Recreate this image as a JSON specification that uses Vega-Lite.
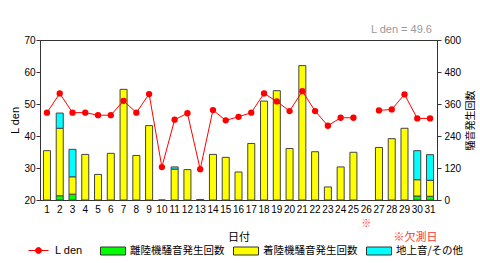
{
  "$schema": "https://vega.github.io/schema/vega-lite/v6.json",
  "width": 397,
  "height": 160,
  "autosize": {"type": "none"},
  "padding": {"left": 40, "top": 40, "right": 43, "bottom": 63},
  "background": "white",
  "title": {"text": "L den = 49.6", "anchor": "end", "frame": "group", "color": "#999999", "fontSize": 11, "fontWeight": "normal", "font": "Liberation Sans", "offset": 0, "dx": -5},
  "config": {
    "view": {"stroke": "#333333", "strokeWidth": 1},
    "axis": {"labelFont": "Liberation Sans", "labelFontSize": 10, "labelColor": "#000000", "domainColor": "#333333", "tickColor": "#333333", "grid": false, "titleFontWeight": "normal", "titleColor": "#000000"},
    "legend": {"labelColor": "#000000"}
  },
  "datasets": {
    "bars": [
      {"day": "1", "type": "離陸機騒音発生回数", "count": 0},
      {"day": "1", "type": "着陸機騒音発生回数", "count": 185},
      {"day": "2", "type": "離陸機騒音発生回数", "count": 16},
      {"day": "2", "type": "着陸機騒音発生回数", "count": 253},
      {"day": "2", "type": "地上音/その他", "count": 57},
      {"day": "3", "type": "離陸機騒音発生回数", "count": 22},
      {"day": "3", "type": "着陸機騒音発生回数", "count": 65},
      {"day": "3", "type": "地上音/その他", "count": 103},
      {"day": "4", "type": "着陸機騒音発生回数", "count": 171},
      {"day": "5", "type": "着陸機騒音発生回数", "count": 96},
      {"day": "6", "type": "着陸機騒音発生回数", "count": 175},
      {"day": "7", "type": "着陸機騒音発生回数", "count": 415},
      {"day": "8", "type": "着陸機騒音発生回数", "count": 167},
      {"day": "9", "type": "着陸機騒音発生回数", "count": 279},
      {"day": "10", "type": "着陸機騒音発生回数", "count": 0},
      {"day": "11", "type": "着陸機騒音発生回数", "count": 116},
      {"day": "11", "type": "地上音/その他", "count": 8},
      {"day": "12", "type": "着陸機騒音発生回数", "count": 114},
      {"day": "13", "type": "着陸機騒音発生回数", "count": 2},
      {"day": "14", "type": "着陸機騒音発生回数", "count": 171},
      {"day": "15", "type": "着陸機騒音発生回数", "count": 160},
      {"day": "16", "type": "着陸機騒音発生回数", "count": 105},
      {"day": "17", "type": "着陸機騒音発生回数", "count": 212},
      {"day": "18", "type": "着陸機騒音発生回数", "count": 371},
      {"day": "19", "type": "着陸機騒音発生回数", "count": 410},
      {"day": "20", "type": "着陸機騒音発生回数", "count": 193},
      {"day": "21", "type": "着陸機騒音発生回数", "count": 504},
      {"day": "22", "type": "着陸機騒音発生回数", "count": 181},
      {"day": "23", "type": "着陸機騒音発生回数", "count": 49},
      {"day": "24", "type": "着陸機騒音発生回数", "count": 124},
      {"day": "25", "type": "着陸機騒音発生回数", "count": 179},
      {"day": "27", "type": "着陸機騒音発生回数", "count": 197},
      {"day": "28", "type": "着陸機騒音発生回数", "count": 230},
      {"day": "29", "type": "着陸機騒音発生回数", "count": 269},
      {"day": "30", "type": "離陸機騒音発生回数", "count": 15},
      {"day": "30", "type": "着陸機騒音発生回数", "count": 61},
      {"day": "30", "type": "地上音/その他", "count": 109},
      {"day": "31", "type": "離陸機騒音発生回数", "count": 14},
      {"day": "31", "type": "着陸機騒音発生回数", "count": 60},
      {"day": "31", "type": "地上音/その他", "count": 96}
    ],
    "lden": [
      {"day": "1", "lden": 47.3}, {"day": "2", "lden": 53.3}, {"day": "3", "lden": 47.3},
      {"day": "4", "lden": 47.3}, {"day": "5", "lden": 46.5}, {"day": "6", "lden": 46.5},
      {"day": "7", "lden": 51.0}, {"day": "8", "lden": 47.3}, {"day": "9", "lden": 53.1},
      {"day": "10", "lden": 30.3}, {"day": "11", "lden": 45.1}, {"day": "12", "lden": 47.1},
      {"day": "13", "lden": 29.6}, {"day": "14", "lden": 48.1}, {"day": "15", "lden": 44.9},
      {"day": "16", "lden": 46.0}, {"day": "17", "lden": 47.3}, {"day": "18", "lden": 53.3},
      {"day": "19", "lden": 50.8}, {"day": "20", "lden": 47.8}, {"day": "21", "lden": 54.0},
      {"day": "22", "lden": 47.8}, {"day": "23", "lden": 43.2}, {"day": "24", "lden": 45.7},
      {"day": "25", "lden": 45.7}, {"day": "26", "lden": null}, {"day": "27", "lden": 48.0},
      {"day": "28", "lden": 48.3}, {"day": "29", "lden": 53.0}, {"day": "30", "lden": 45.5},
      {"day": "31", "lden": 45.5}
    ]
  },
  "layer": [
    {
      "data": {"name": "bars"},
      "mark": {"type": "bar", "stroke": "#444444", "strokeWidth": 1},
      "encoding": {
        "x": {
          "field": "day", "type": "ordinal",
          "scale": {"domain": ["1","2","3","4","5","6","7","8","9","10","11","12","13","14","15","16","17","18","19","20","21","22","23","24","25","26","27","28","29","30","31"], "paddingInner": 0.45, "paddingOuter": 0.27},
          "axis": {"orient": "bottom", "title": "日付", "titleFont": "Noto Sans CJK JP", "titleFontSize": 11, "titlePadding": 17, "labelAngle": 0, "ticks": false, "labelPadding": 4, "domain": true}
        },
        "y": {
          "field": "count", "type": "quantitative", "stack": "zero",
          "scale": {"domain": [0, 600]},
          "axis": {"orient": "right", "values": [0, 120, 240, 360, 480, 600], "title": "騒音発生回数", "titleAngle": 270, "titleBaseline": "top", "titleFont": "Noto Sans CJK JP", "titleFontSize": 10, "titlePadding": 5, "tickSize": 4, "labelPadding": 3}
        },
        "fill": {
          "field": "type", "type": "nominal",
          "sort": ["離陸機騒音発生回数", "着陸機騒音発生回数", "地上音/その他"],
          "scale": {"domain": ["離陸機騒音発生回数", "着陸機騒音発生回数", "地上音/その他"], "range": ["#00ff00", "#ffff00", "#00ffff"]},
          "legend": {"orient": "none", "legendX": 60, "legendY": 198, "direction": "horizontal", "title": null, "symbolType": "M-1,-0.32H1V0.32H-1Z", "symbolSize": 625, "symbolStrokeColor": "#333333", "symbolStrokeWidth": 1, "labelFont": "Noto Sans CJK JP", "labelFontSize": 10.5, "labelOffset": 4, "columnPadding": 6}
        }
      }
    },
    {
      "data": {"name": "lden"},
      "mark": {"type": "line", "color": "#ff0000", "strokeWidth": 1, "invalid": "break-paths-show-domains", "point": {"filled": true, "size": 40, "color": "#ff0000"}},
      "encoding": {
        "x": {
          "field": "day", "type": "ordinal",
          "axis": {"orient": "bottom", "labelExpr": "datum.value == '26' ? '※' : ''", "labelColor": "#ff3333", "labelFont": "Noto Sans CJK JP", "labelFontSize": 10, "labelPadding": 18, "ticks": false, "domain": false, "title": "※欠測日", "titleColor": "#ff3333", "titleFont": "Noto Sans CJK JP", "titleFontSize": 11, "titleAnchor": "end", "titlePadding": 3, "labelAngle": 0}
        },
        "y": {
          "field": "lden", "type": "quantitative",
          "scale": {"domain": [20, 70]},
          "axis": {"orient": "left", "values": [20, 30, 40, 50, 60, 70], "title": "L den", "titleFont": "Liberation Sans", "titleFontSize": 11, "titlePadding": 3, "tickSize": 4, "labelPadding": 1}
        },
        "color": {
          "datum": "L den",
          "scale": {"range": ["#ff0000"]},
          "legend": {"orient": "none", "legendX": -12, "legendY": 200, "title": null, "symbolType": "M-1,0H1M0.3,0A0.3,0.3,0,1,1,-0.3,0A0.3,0.3,0,1,1,0.3,0Z", "symbolSize": 400, "symbolStrokeColor": "#ff0000", "symbolFillColor": "#ff0000", "symbolStrokeWidth": 1, "labelFont": "Liberation Sans", "labelFontSize": 11, "labelOffset": 6}
        }
      }
    }
  ],
  "resolve": {"scale": {"y": "independent"}, "axis": {"x": "independent", "y": "independent"}}
}
